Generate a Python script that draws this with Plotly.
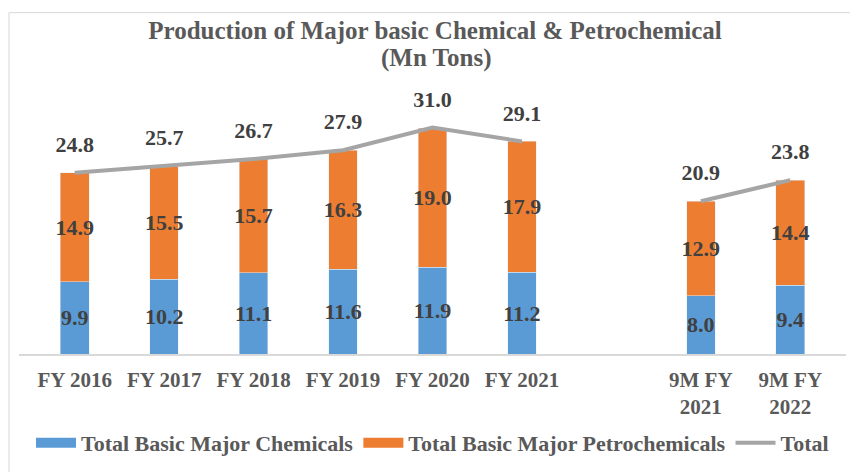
import plotly.graph_objects as go

categories = ["FY 2016", "FY 2017", "FY 2018", "FY 2019", "FY 2020", "FY 2021", " ",
              "9M FY<br>2021", "9M FY<br>2022"]
chemicals = [9.9, 10.2, 11.1, 11.6, 11.9, 11.2, None, 8.0, 9.4]
petrochemicals = [14.9, 15.5, 15.7, 16.3, 19.0, 17.9, None, 12.9, 14.4]
total = [24.8, 25.7, 26.7, 27.9, 31.0, 29.1, None, 20.9, 23.8]

BLUE = "#5b9bd5"
ORANGE = "#ed7d31"
GRAY = "#a5a5a5"
FONT = "Liberation Serif"
LABEL_COLOR = "#404040"
TEXT_COLOR = "#595959"

def fmt(v):
    return "" if v is None else f"{v:.1f}"

fig = go.Figure()

# legend entries
fig.add_trace(go.Scatter(x=[None], y=[None], mode="lines", name="Total Basic Major Chemicals",
                         line=dict(color=BLUE, width=10)))
fig.add_trace(go.Scatter(x=[None], y=[None], mode="lines", name="Total Basic Major Petrochemicals",
                         line=dict(color=ORANGE, width=10)))
fig.add_trace(go.Scatter(x=[None], y=[None], mode="lines", name="Total",
                         line=dict(color=GRAY, width=4)))

fig.add_trace(go.Bar(
    x=categories, y=chemicals, marker_color=BLUE, showlegend=False,
    text=[fmt(v) for v in chemicals], textposition="inside", insidetextanchor="middle",
    textangle=0, constraintext="none", cliponaxis=False,
    textfont=dict(family=FONT, size=22, color=LABEL_COLOR, weight="bold"),
))
fig.add_trace(go.Bar(
    x=categories, y=petrochemicals, marker_color=ORANGE, showlegend=False,
    text=[fmt(v) for v in petrochemicals], textposition="inside", insidetextanchor="middle",
    textangle=0, constraintext="none", cliponaxis=False,
    textfont=dict(family=FONT, size=22, color=LABEL_COLOR, weight="bold"),
))
fig.add_trace(go.Scatter(
    x=categories, y=total, mode="lines", line=dict(color=GRAY, width=4),
    showlegend=False, connectgaps=False, cliponaxis=False,
))
fig.add_trace(go.Scatter(
    x=categories, y=total, mode="markers+text", text=[fmt(v) for v in total],
    textposition="top center", marker=dict(size=23, color="rgba(0,0,0,0)"),
    showlegend=False, cliponaxis=False,
    textfont=dict(family=FONT, size=22, color=LABEL_COLOR, weight="bold"),
))

fig.update_layout(
    width=858, height=472,
    margin=dict(l=10.5, r=19.5, t=82.5, b=126, autoexpand=False),
    barmode="stack", bargap=0.68,
    plot_bgcolor="white", paper_bgcolor="white",
    font=dict(family=FONT, color=TEXT_COLOR),
    title=dict(text="<b>Production of Major basic Chemical & Petrochemical</b>",
               x=0.4977, xanchor="center", y=0.9534, yanchor="middle", yref="container",
               font=dict(family=FONT, size=25, color=TEXT_COLOR)),
    annotations=[dict(text="<b>(Mn Tons)</b>", xref="paper", yref="paper", x=0.504, y=1.127,
                      xanchor="center", yanchor="middle", showarrow=False,
                      font=dict(family=FONT, size=25, color=TEXT_COLOR))],
    xaxis=dict(type="category", categoryorder="array", categoryarray=categories,
               showline=True, linecolor="#d9d9d9", linewidth=1.5, ticks="",
               ticklabelstandoff=6, automargin=False,
               showgrid=False, tickfont=dict(family=FONT, size=21, color=TEXT_COLOR, weight="bold")),
    yaxis=dict(range=[0, 36], visible=False, showgrid=False, zeroline=False, automargin=False),
    legend=dict(orientation="h", x=0.5, xanchor="center", y=-0.338, yanchor="middle",
                traceorder="normal",
                font=dict(family=FONT, size=22, color=TEXT_COLOR, weight="bold"),
                itemwidth=40, tracegroupgap=0),
    shapes=[dict(type="rect", xref="paper", yref="paper", x0=-0.0121, x1=1.05, y0=-0.6, y1=1.298,
                 line=dict(color="#d9d9d9", width=1), fillcolor="rgba(0,0,0,0)", layer="below")],
)

fig.write_html("out.html")
